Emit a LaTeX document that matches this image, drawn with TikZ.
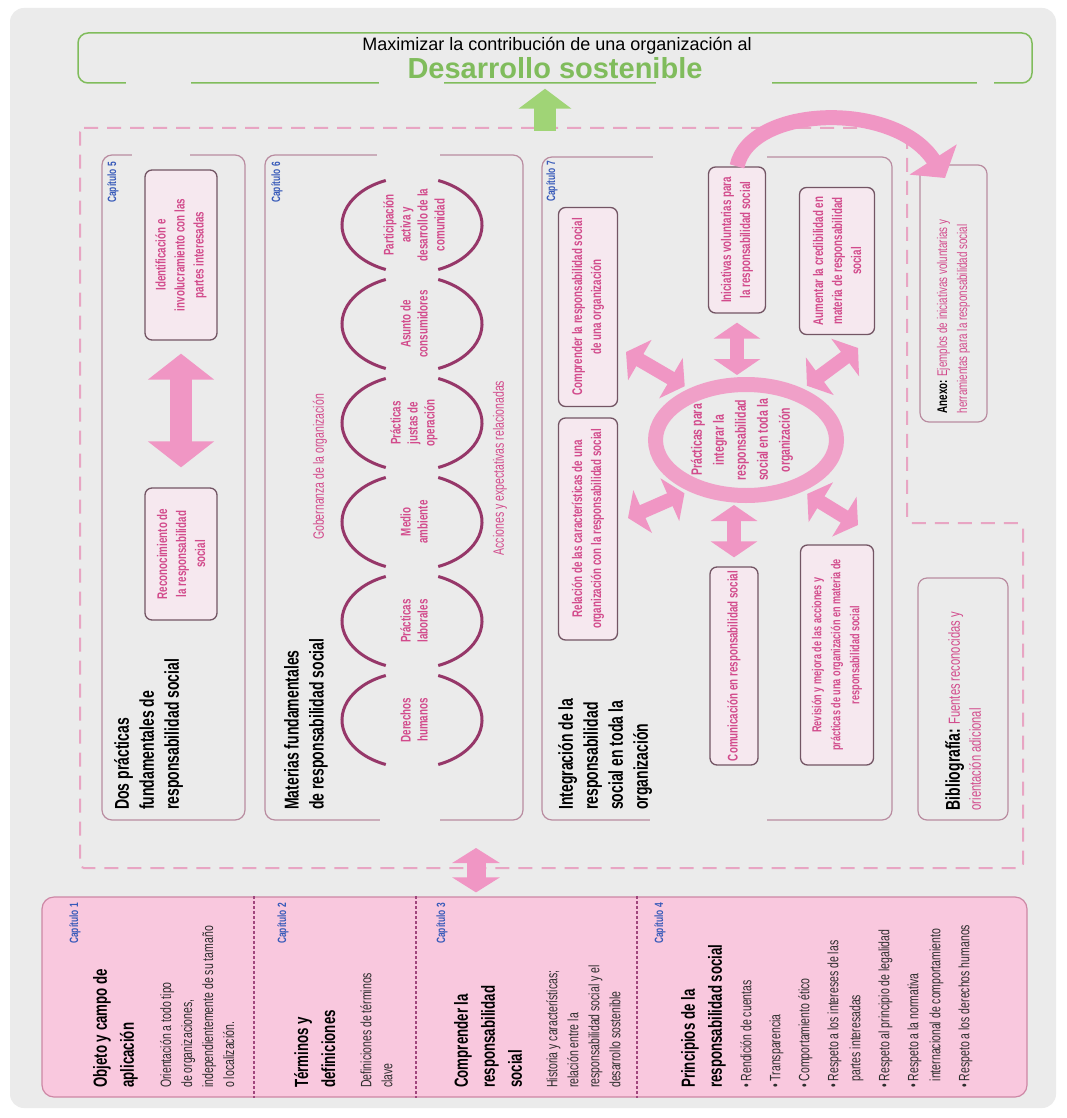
\documentclass[tikz,border=0pt]{standalone}
\usepackage{fontspec}
\setmainfont{Liberation Sans}[FakeStretch=0.7]
\newfontfamily\widefont{Liberation Sans}
\usetikzlibrary{arrows.meta,shapes.geometric}
\definecolor{bggrey}{RGB}{235,235,235}
\definecolor{goalgreen}{RGB}{128,188,92}
\definecolor{arrowgreen}{RGB}{160,212,118}
\definecolor{dashpink}{RGB}{232,165,195}
\definecolor{boxline}{RGB}{185,140,160}
\definecolor{innerline}{RGB}{115,85,100}
\definecolor{boxfill}{RGB}{246,232,239}
\definecolor{textpink}{RGB}{210,75,140}
\definecolor{arcplum}{RGB}{150,55,105}
\definecolor{arrowpink}{RGB}{240,150,196}
\definecolor{ringpink}{RGB}{240,160,200}
\definecolor{capblue}{RGB}{55,90,185}
\definecolor{basefill}{RGB}{249,200,222}
\definecolor{baseedge}{RGB}{205,135,165}
\definecolor{divplum}{RGB}{160,70,125}
\definecolor{darktext}{RGB}{45,45,45}

\begin{document}
\begin{tikzpicture}[x=1pt,y=-1pt,
  rot/.style={rotate=90,inner sep=0pt,align=left},
  capnum/.style={rot,anchor=east,text=capblue,font=\bfseries\fontsize{12}{14}\selectfont},
  bigtitle/.style={rot,anchor=north west,font=\bfseries\fontsize{20}{25}\selectfont},
  basetitle/.style={rot,anchor=north west,font=\bfseries\fontsize{19}{27}\selectfont},
  basetext/.style={rot,anchor=north west,text=darktext,font=\fontsize{15}{21}\selectfont},
  pinktext/.style={rot,text=textpink,font=\fontsize{15}{18}\selectfont},
  chapbox/.style={draw=boxline,line width=1.2pt,rounded corners=10pt,inner sep=0pt},
  inbox/.style={rotate=90,draw=innerline,fill=boxfill,line width=1.3pt,rounded corners=7pt,text=textpink,align=center,inner sep=2pt,font=\bfseries\fontsize{14}{19}\selectfont},
  sidebox/.style={rotate=90,draw=boxline,line width=1.2pt,rounded corners=9pt,inner sep=0pt},
  topic/.style={rotate=90,inner sep=0pt,text=textpink,align=center,font=\bfseries\fontsize{14}{17}\selectfont},
  lens/.style={draw=arcplum,line width=3pt},
  fatarrow/.style={draw=arrowpink,line width=22pt,{Triangle[width=65pt,length=26pt]}-{Triangle[width=65pt,length=26pt]}},
  dblarrow/.style={draw=arrowpink,line width=14pt,{Triangle[width=46pt,length=16pt]}-{Triangle[width=46pt,length=16pt]}},
  linkarrow/.style={draw=arrowpink,line width=19pt,{Triangle[width=47pt,length=15pt]}-{Triangle[width=47pt,length=15pt]}},
  curvearrow/.style={draw=arrowpink,line width=15pt,-{Triangle[width=55pt,length=22pt]}},
  goalarrow/.style={draw=arrowgreen,line width=22pt,-{Triangle[width=52pt,length=20pt]}},
  divider/.style={draw=divplum,line width=1.2pt,dash pattern=on 3pt off 2pt},
  linegap/.style={fill=bggrey}]
\useasboundingbox (0,0) rectangle (1066,1118);
\fill[white] (0,0) rectangle (1066,1118);
\fill[bggrey,rounded corners=14pt] (10,8) rectangle (1056,1108);

\node[draw=goalgreen,line width=1.5pt,rounded corners=10pt,minimum width=954pt,minimum height=50pt,inner sep=0pt] (goal) at (555,58) {};
\foreach \a/\b in {126/191,379/444,656/772,977/994}
  \fill[linegap] (\a,80) rectangle (\b,87);
\node[font=\widefont\fontsize{18}{20}\selectfont] (goaltop) at (557,46) {Maximizar la contribución de una organización al};
\node[text=goalgreen,font=\widefont\bfseries\fontsize{29}{32}\selectfont] (goalmain) at (555,68) {Desarrollo sostenible};

\draw[dashpink,line width=2pt,dash pattern=on 14pt off 9pt,rounded corners=4pt] (80,128) -- (907,128) -- (907,523) -- (1023,523) -- (1023,868) -- (80,868) -- cycle;

\node[chapbox,minimum width=143pt,minimum height=665pt] (cap5) at (173.5,487.5) {};
\node[chapbox,minimum width=258pt,minimum height=665pt] (cap6) at (394,487.5) {};
\node[chapbox,minimum width=350pt,minimum height=663pt] (cap7) at (717,488.5) {};
\fill[linegap] (132,150) rectangle (190,160);
\fill[linegap] (377,150) rectangle (440,160);
\fill[linegap] (380,815) rectangle (440,825);
\fill[linegap] (653,152) rectangle (767,162);
\fill[linegap] (650,815) rectangle (767,825);

\node[sidebox,minimum width=257pt,minimum height=67pt] (anexo) at (953.5,293.5) {};
\node[rot,anchor=west,text=textpink,font=\fontsize{14}{20}\selectfont] (anexotext) at ([yshift=9pt]anexo.west) {{\color{black}\bfseries Anexo:} Ejemplos de iniciativas voluntarias y\\herramientas para la responsabilidad social};
\node[sidebox,minimum width=242pt,minimum height=90pt] (biblio) at (963,699) {};
\node[rot,anchor=west,text=textpink,font=\fontsize{16}{21}\selectfont] (bibliotext) at ([yshift=10pt]biblio.west) {{\color{black}\bfseries\fontsize{20}{21}\selectfont Bibliografía:} Fuentes reconocidas y\\orientación adicional};

\node[capnum] (n5) at (113,162) {Capítulo 5};
\node[capnum] (n6) at (277,162) {Capítulo 6};
\node[capnum] (n7) at (552,161) {Capítulo 7};
\node[bigtitle] (t5) at (114,810) {Dos prácticas\\fundamentales de\\responsabilidad social};
\node[bigtitle] (t6) at (284,810) {Materias fundamentales\\de responsabilidad social};
\node[bigtitle] (t7) at (558,810) {Integración de la\\responsabilidad\\social en toda la\\organización};

\node[inbox,minimum width=170pt,minimum height=72pt] (identificacion) at (181,255) {Identificación e\\involucramiento con las\\partes interesadas};
\node[inbox,minimum width=132pt,minimum height=72pt] (reconocimiento) at (181,554) {Reconocimiento de\\la responsabilidad\\social};
\draw[fatarrow,shorten <=13pt,shorten >=20pt] (identificacion.west) -- (reconocimiento.east);

\foreach \yc/\txt [count=\k] in {225/{Participación\\activa y\\desarrollo de la\\comunidad},324/{Asunto de\\consumidores},423/{Prácticas\\justas de\\operación},522/{Medio\\ambiente},621/{Prácticas\\laborales},720/{Derechos\\humanos}}{
  \draw[lens] (412,\yc) ++(112:70pt and 48pt) arc[start angle=112,end angle=248,x radius=70pt,y radius=48pt];
  \draw[lens] (412,\yc) ++(-68:70pt and 48pt) arc[start angle=-68,end angle=68,x radius=70pt,y radius=48pt];
  \node[topic] (topic\k) at (414,\yc) {\txt};
}
\node[pinktext] (gob) at (320,467) {Gobernanza de la organización};
\node[pinktext] (acc) at (500,468) {Acciones y expectativas relacionadas};

\node[inbox,minimum width=199pt,minimum height=59pt] (comprender) at (588,307) {Comprender la responsabilidad social\\de una organización};
\node[inbox,minimum width=222pt,minimum height=59pt] (relacion) at (588,529) {Relación de las características de una\\organización con la responsabilidad social};
\node[inbox,minimum width=146pt,minimum height=57pt] (iniciativas) at (737,240) {Iniciativas voluntarias para\\la responsabilidad social};
\node[inbox,minimum width=147pt,minimum height=75pt] (aumentar) at (837,261) {Aumentar la credibilidad en\\materia de responsabilidad\\social};
\node[inbox,minimum width=198pt,minimum height=48pt] (comunicacion) at (734,666) {Comunicación en responsabilidad social};
\node[inbox,minimum width=220pt,minimum height=73pt,font=\bfseries\fontsize{13}{19}\selectfont] (revision) at (837,655) {Revisión y mejora de las acciones y\\prácticas de una organización en materia de\\responsabilidad social};

\node[ellipse,draw=ringpink,line width=15pt,minimum width=181pt,minimum height=111pt,inner sep=0pt] (ring) at (746,440) {};
\node[topic,font=\bfseries\fontsize{15}{22}\selectfont] (ringtext) at (742,440) {Prácticas para\\integrar la\\responsabilidad\\social en toda la\\organización};
\coordinate (ul) at (626,352);
\coordinate (ur) at (858,348);
\coordinate (ll) at (628,518);
\coordinate (lr) at (858,525);
\draw[dblarrow,shorten <=5pt] (ring.138) -- (ul);
\draw[dblarrow,shorten <=5pt] (ring.42) -- (ur);
\draw[dblarrow,shorten <=5pt] (ring.222) -- (ll);
\draw[dblarrow,shorten <=5pt] (ring.318) -- (lr);
\draw[dblarrow,shorten <=9pt,shorten >=2pt] (iniciativas.west) -- (iniciativas.west |- ring.north);
\draw[dblarrow,shorten <=2pt,shorten >=9pt] (comunicacion.east |- ring.south) -- (comunicacion.east);

\coordinate (annexin) at (945,178);
\draw[curvearrow] (iniciativas.east) .. controls (750,105) and (895,100) .. (annexin);

\node[draw=baseedge,fill=basefill,line width=1.2pt,rounded corners=12pt,minimum width=985pt,minimum height=200pt,inner sep=0pt] (base) at (534.5,997) {};
\foreach \x in {254,416,637}
  \draw[divider] (\x,0 |- base.north) -- (\x,0 |- base.south);
\node[capnum] (n1) at (75,903) {Capítulo 1};
\node[capnum] (n2) at (283,903) {Capítulo 2};
\node[capnum] (n3) at (442,903) {Capítulo 3};
\node[capnum] (n4) at (660,903) {Capítulo 4};
\node[basetitle] (t1) at (93,1088) {Objeto y campo de\\aplicación};
\node[basetitle] (t2) at (294,1088) {Términos y\\definiciones};
\node[basetitle] (t3) at (454,1088) {Comprender la\\responsabilidad\\social};
\node[basetitle] (t4) at (681,1088) {Principios de la\\responsabilidad social};
\node[basetext] (d1) at (160,1088) {Orientación a todo tipo\\de organizaciones,\\independientemente de su tamaño\\o localización.};
\node[basetext] (d2) at (360,1088) {Definiciones de términos\\clave};
\node[basetext] (d3) at (546,1088) {Historia y características;\\relación entre la\\responsabilidad social y el\\desarrollo sostenible};
\node[basetext,font=\fontsize{15}{22}\selectfont] (d4) at (740,1088) {\textbullet\ Rendición de cuentas\\[7pt]\textbullet\ Transparencia\\[7pt]\textbullet\ Comportamiento ético\\[7pt]\textbullet\ Respeto a los intereses de las\\\hphantom{\textbullet\ }partes interesadas\\[7pt]\textbullet\ Respeto al principio de legalidad\\[7pt]\textbullet\ Respeto a la normativa\\\hphantom{\textbullet\ }internacional de comportamiento\\[7pt]\textbullet\ Respeto a los derechos humanos};

\coordinate (link) at (476,848);
\draw[linkarrow,shorten >=4pt] (link) -- (link |- base.north);
\coordinate (rise) at (545,131);
\draw[goalarrow,shorten >=5pt] (rise) -- (rise |- goal.south);
\end{tikzpicture}
\end{document}
